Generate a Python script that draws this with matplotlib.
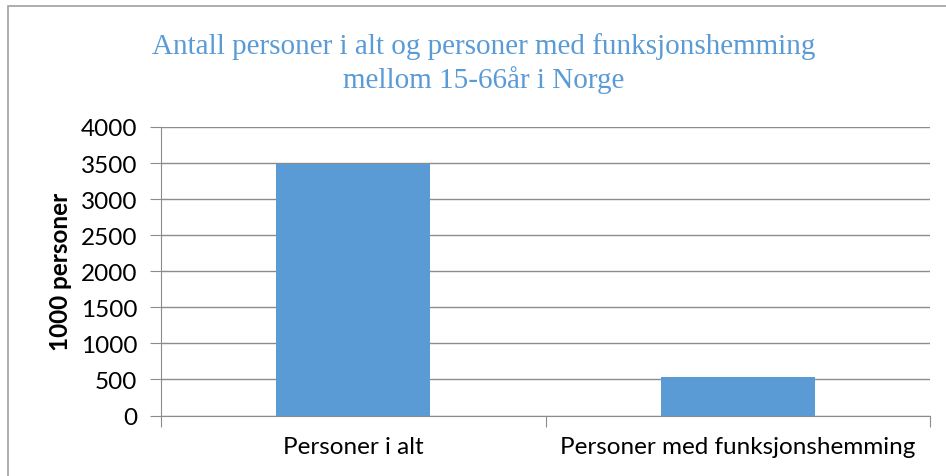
import matplotlib.pyplot as plt
from matplotlib.patches import Rectangle

categories = ['Personer i alt', 'Personer med funksjonshemming']
values = [3490, 535]
yticks = [0, 500, 1000, 1500, 2000, 2500, 3000, 3500, 4000]
title_lines = ['Antall personer i alt og personer med funksjonshemming', 'mellom 15-66år i Norge']

bar_color = '#5B9BD5'
grid_color = '#8C8C8C'

fig = plt.figure(figsize=(9.46, 4.77), dpi=100)
W, H = 946, 477
# outer chart frame (extends beyond the image on the right/bottom)
fig.patches.append(Rectangle((8 / W, -0.1), 1.2, (H - 7) / H + 0.1, transform=fig.transFigure,
                             fill=False, edgecolor='#A0A0A0', linewidth=1.2))

ax = fig.add_axes([161 / W, 1 - 416.5 / H, (930 - 161) / W, (416.5 - 128) / H])
x = range(len(categories))
ax.bar(x, values, width=0.4, color=bar_color, zorder=3)
ax.set_xlim(-0.5, 1.5)
ax.set_ylim(0, 4000)
ax.set_yticks(yticks)
ax.set_yticklabels([str(v) for v in yticks], fontsize=17.5, family='Lato')
ax.set_xticks([-0.5, 0.5, 1.5])
ax.set_xticklabels([])
ax.set_xticks(list(x), minor=True)
ax.set_xticklabels(categories, minor=True, fontsize=17.5, family='Lato')
ax.tick_params(axis='x', which='minor', length=0, pad=15)
ax.tick_params(axis='x', which='major', length=8, color=grid_color)
ax.tick_params(axis='y', length=8, color=grid_color, pad=9)
ax.yaxis.grid(True, color=grid_color, linewidth=1, zorder=0)
for s in ['top', 'right']:
    ax.spines[s].set_visible(False)
ax.spines['left'].set_color(grid_color)
ax.spines['bottom'].set_color(grid_color)

fig.text(60 / W, 1 - 271.5 / H, '1000 personer', rotation=90, ha='center', va='center',
         fontsize=17.5, fontweight='bold', family='Lato')

for line, base in zip(title_lines, [54.5, 88]):
    fig.text(484 / W, 1 - base / H, line, ha='center', va='baseline', fontsize=21,
             family='Liberation Serif', color=bar_color)

fig.savefig('out.png', dpi=100)
